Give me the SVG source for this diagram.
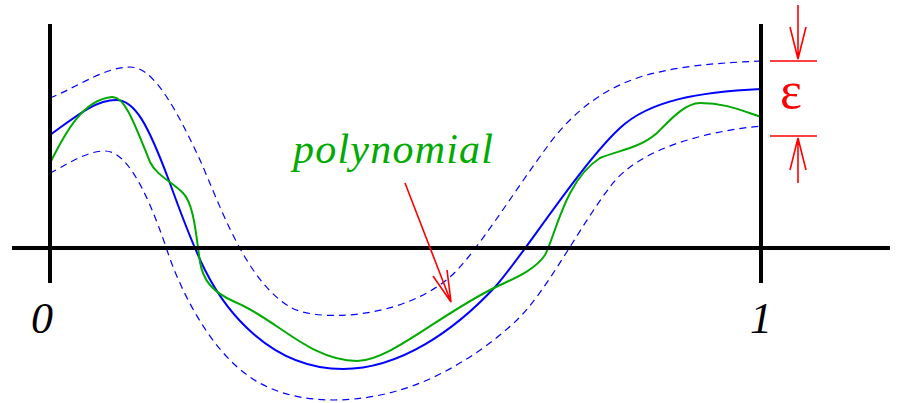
<svg xmlns="http://www.w3.org/2000/svg" width="900" height="403" viewBox="0 0 900 403">
<style>
.axis{stroke:#000;stroke-width:4;fill:none}
.blue{stroke:#0000ff;stroke-width:2;fill:none}
.dash{stroke:#0000ff;stroke-width:1.2;fill:none;stroke-dasharray:7 5}
.green{stroke:#00aa00;stroke-width:2;fill:none}
.red{stroke:#ff0000;stroke-width:1.6;fill:none}
.serif{font-family:"Liberation Serif","Times New Roman","DejaVu Serif",serif}
.lbl{font-style:italic;font-size:44px;fill:#000;text-anchor:middle}
</style>
<rect width="900" height="403" fill="#fff"/>
<g id="curves">
<path id="upper-band" class="dash" d="M50,98 C75,88 105,67 130,67 C150,67 170,95 200,160 C220,205 245,280 290,307 C315,322 400,320 450,277 C475,255 515,190 547,147 C570,115 600,90 640,77 C680,65 720,63 761,61"/>
<path id="lower-band" class="dash" d="M50,173 C65,166 85,151 105,151 C125,151 145,185 167,250 C180,290 210,350 250,377 C290,405 350,405 400,390 C435,380 480,355 517,320 C548,290 580,225 613,183 C640,150 700,132 761,126"/>
<path id="function" class="blue" d="M50,135 C75,117 95,100 116,100 C135,100 148,125 168,178 C178,205 190,240 205,270 C225,310 270,369 343,369 C400,369 455,330 495,287 C520,260 580,165 620,128 C650,100 700,92 761,89"/>
<path id="poly" class="green" d="M50,163 C62,140 80,100 112,97 C125,96 135,125 150,162 C156,175 172,182 183,193 C194,204 196,235 200,262 C203,280 212,292 235,302 C275,318 310,361 357,361 C390,361 440,314 496,287 C515,278 535,270 545,255 C555,237 565,180 600,158 C620,150 640,148 657,133 C670,120 685,103 700,103 C725,103 740,110 761,117"/>
</g>
<g id="axes">
<line class="axis" x1="12" y1="248" x2="890" y2="248"/>
<line class="axis" x1="50" y1="24" x2="50" y2="283"/>
<line class="axis" x1="761" y1="24" x2="761" y2="283"/>
<text class="serif lbl" x="42" y="333">0</text>
<text class="serif lbl" x="761" y="333">1</text>
</g>
<g id="epsilon">
<line class="red" x1="770" y1="61" x2="817" y2="61"/>
<line class="red" x1="770" y1="136" x2="817" y2="136"/>
<path class="red" d="M798,5 L798,59 M790,27 L798,59 L806,27"/>
<path class="red" d="M798,183 L798,138 M790,170 L798,138 L806,170"/>
<text class="serif" x="791" y="108" font-size="52" fill="#ff0000" text-anchor="middle">ε</text>
</g>
<g id="label">
<text class="serif" x="293" y="163" font-style="italic" font-size="42" fill="#00aa00" textLength="200">polynomial</text>
<path class="red" stroke-width="2" d="M405,183 L451,302 M433,276 L451,302 L447,270"/>
</g>
</svg>
